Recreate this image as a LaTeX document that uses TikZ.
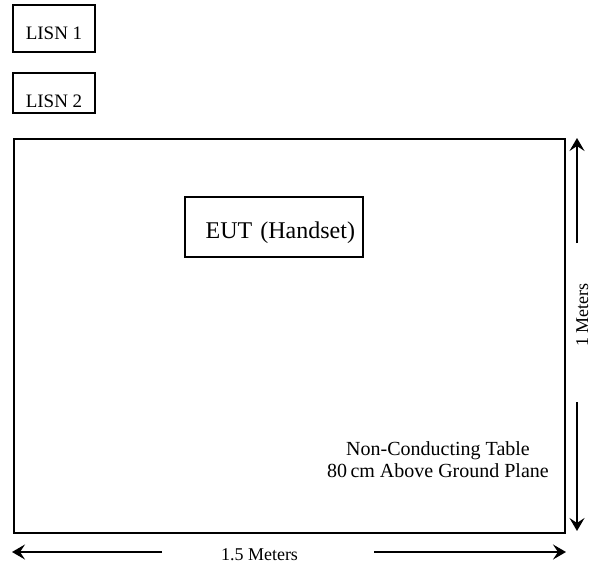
\documentclass[tikz,border=0pt]{standalone}
\usepackage{fontspec}
\setmainfont{Liberation Serif}
\usetikzlibrary{arrows.meta}
\tikzset{
	box/.style={draw,line width=2pt,inner sep=0pt},	% plain framed box
	dim/.style={line width=2pt,-{Stealth[length=13pt,width=15pt,inset=5pt]}}	% dimension arrow
}

\begin{document}
\begin{tikzpicture}[x=1pt,y=-1pt]
	\useasboundingbox (0,0) rectangle (608,567);
	\node[box,minimum width=82pt,minimum height=47pt,text height=23pt,text depth=0pt,font=\fontsize{19}{19}\selectfont] (lisna) at (54,28.5) {LISN 1};
	\node[box,minimum width=82pt,minimum height=40pt,text height=28pt,text depth=0pt,font=\fontsize{19}{19}\selectfont] (lisnb) at (54,93.3) {LISN 2};
	\node[box,minimum width=551pt,minimum height=394pt] (table) at (289.5,336) {};
	\node[box,minimum width=178pt,minimum height=60pt,text width=162pt,align=right,text height=22pt,text depth=0pt,font=\fontsize{24}{24}\selectfont] (eut) at (274,227) {EUT (Handset)};
	\node[align=center,inner sep=0pt,font=\fontsize{20}{22}\selectfont] (tabletext) at (438,459.5) {Non-Conducting Table\\80\,cm Above Ground Plane};
	% table width
	\node[anchor=base,inner sep=0pt,font=\fontsize{18}{18}\selectfont] (width) at (259.5,560) {1.5 Meters};
	\coordinate (wl) at (12,552);
	\coordinate (wa) at (162,552);
	\coordinate (wb) at (374,552);
	\coordinate (wr) at (566,552);
	\draw[dim] (wa) -- (wl);
	\draw[dim] (wb) -- (wr);
	% table depth
	\node[rotate=90,anchor=base,inner sep=0pt,font=\fontsize{18}{18}\selectfont] (depth) at (588,315) {1 Meters};
	\coordinate (dt) at (577,138);
	\coordinate (da) at (577,243);
	\coordinate (db) at (577,402);
	\coordinate (dd) at (577,531);
	\draw[dim] (da) -- (dt);
	\draw[dim] (db) -- (dd);
\end{tikzpicture}
\end{document}
